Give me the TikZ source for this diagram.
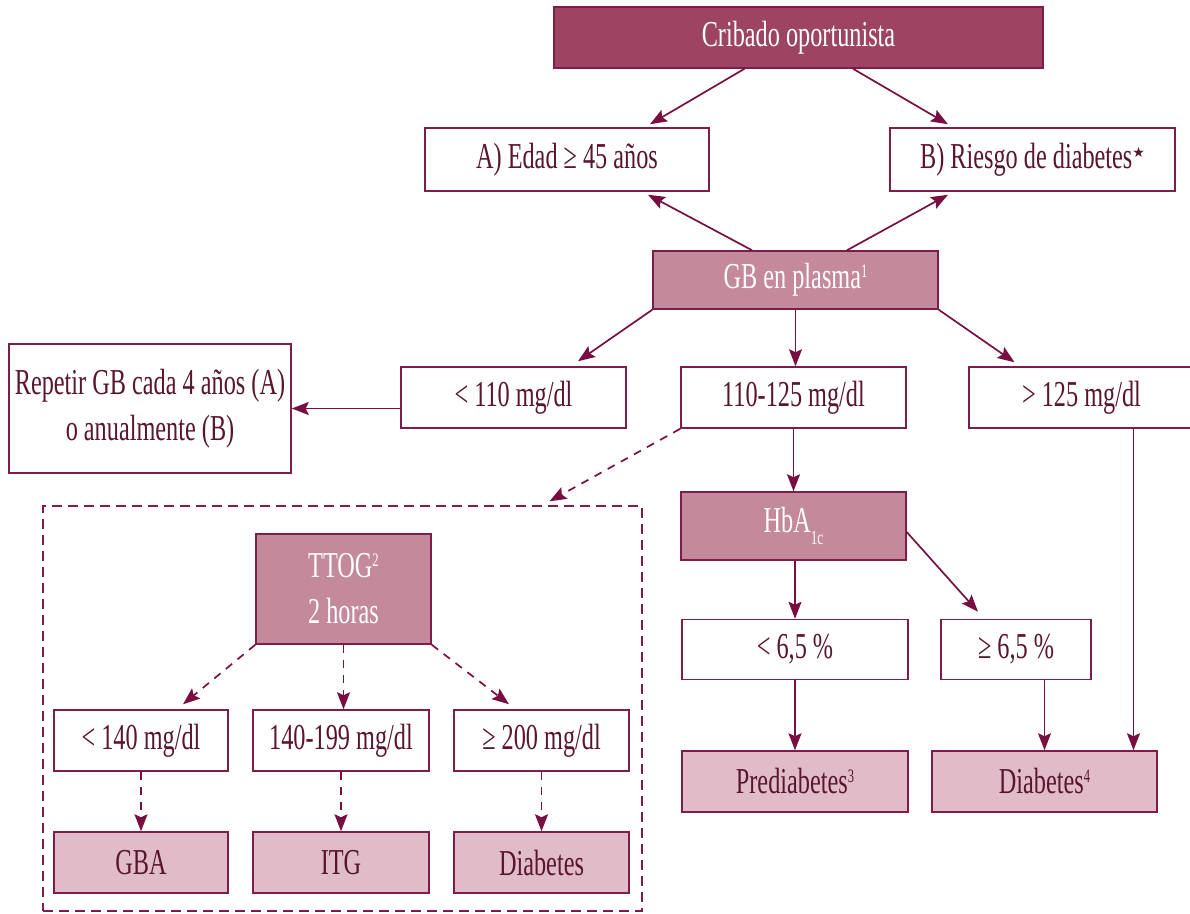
\documentclass[tikz,border=0pt]{standalone}
\usepackage{fontspec}
\setmainfont{Liberation Serif}[FakeStretch=0.665]
\newfontfamily\dejavu{DejaVu Sans}
\usetikzlibrary{arrows.meta,calc}
\definecolor{darkfill}{HTML}{9C4462}
\definecolor{medfill}{HTML}{C4899B}
\definecolor{lightfill}{HTML}{E0BCC8}
\definecolor{edgecol}{HTML}{7E1D4B}
\definecolor{arrcol}{HTML}{780F40}
\definecolor{txtcol}{HTML}{5A1530}
\newcommand{\supnum}[1]{\raisebox{0.32em}{\fontsize{19}{19}\selectfont #1}}
\begin{document}
\begin{tikzpicture}[x=1pt,y=-1pt,
  box/.style={draw=edgecol, line width=1.5pt, inner sep=0pt, align=center,
              font=\fontsize{36.5}{46}\selectfont},
  wbox/.style={box, fill=white, text=txtcol},
  dbox/.style={box, fill=darkfill, text=white},
  mbox/.style={box, fill=medfill, text=white},
  lbox/.style={box, fill=lightfill, text=txtcol},
  arrow/.style={draw=arrcol, line width=1.7pt, -{Stealth[length=17pt,width=13pt,inset=3pt]}},
  darrow/.style={arrow, dash pattern=on 8pt off 7pt},
]
\useasboundingbox (0,0) rectangle (1190,913);

% top part
\node[dbox, minimum width=489pt, minimum height=61pt] (crib) at (798.5,37.5) {Cribado oportunista};
\node[wbox, minimum width=284pt, minimum height=63pt] (A) at (567,159.5) {A) Edad ≥ 45 años};
\node[wbox, minimum width=285pt, minimum height=63pt] (B) at (1032.5,159.5) {B) Riesgo de diabetes\raisebox{0.3em}{\dejavu\fontsize{14}{14}\selectfont ★}};
\node[mbox, minimum width=285pt, minimum height=58pt] (gb) at (795.5,280) {GB en plasma\supnum{1}};
\node[wbox, minimum width=282pt, minimum height=129pt] (rep) at (150,408.5) {Repetir GB cada 4 años (A)\\o anualmente (B)};
\node[wbox, minimum width=225pt, minimum height=61pt] (lt110) at (513.5,397.5) {< 110 mg/dl};
\node[wbox, minimum width=225pt, minimum height=61pt] (mid) at (793.5,397.5) {110-125 mg/dl};
\node[wbox, minimum width=225pt, minimum height=61pt] (gt125) at (1081.5,397.5) {> 125 mg/dl};
\node[mbox, minimum width=225pt, minimum height=68pt] (hba) at (793.5,526) {HbA\raisebox{-0.35em}{\fontsize{20}{20}\selectfont 1c}};
\node[wbox, minimum width=226pt, minimum height=60pt] (lt65) at (795,649.5) {< 6,5 \%};
\node[wbox, minimum width=150pt, minimum height=60pt] (ge65) at (1016,649.5) {≥ 6,5 \%};
\node[lbox, minimum width=226pt, minimum height=61pt] (pre) at (795,781.5) {Prediabetes\supnum{3}};
\node[lbox, minimum width=225pt, minimum height=61pt] (diab) at (1044.5,781.5) {Diabetes\supnum{4}};

% dashed panel
\node[draw=edgecol, line width=1.4pt, dash pattern=on 10pt off 6pt, inner sep=0pt,
      minimum width=599pt, minimum height=405pt] (panel) at (342.5,708.5) {};
\node[mbox, minimum width=175pt, minimum height=110pt] (ttog) at (343.5,589) {TTOG\supnum{2}\\2 horas};
\node[wbox, minimum width=174pt, minimum height=61pt] (lt140) at (141,740.5) {< 140 mg/dl};
\node[wbox, minimum width=176pt, minimum height=61pt] (m140) at (341,740.5) {140-199 mg/dl};
\node[wbox, minimum width=175pt, minimum height=61pt] (ge200) at (541.5,740.5) {≥ 200 mg/dl};
\node[lbox, minimum width=174pt, minimum height=61pt] (gba) at (141,862.5) {GBA};
\node[lbox, minimum width=176pt, minimum height=61pt] (itg) at (341,862.5) {ITG};
\node[lbox, minimum width=175pt, minimum height=61pt] (diab2) at (541.5,862.5) {Diabetes};

% connectors, top part
\draw[arrow] ($(crib.south)+(-54,0)$) -- ($(A.north)+(83,-3)$);
\draw[arrow] ($(crib.south)+(54.5,0)$) -- ($(B.north)+(-84.5,-3)$);
\draw[arrow] ($(gb.north)+(-43.5,0)$) -- ($(A.south)+(81,3)$);
\draw[arrow] ($(gb.north)+(51.5,0)$) -- ($(B.south)+(-84.5,3)$);
\draw[arrow] (gb.south west) -- ($(lt110.north)+(64.5,-5)$);
\draw[arrow] (gb.south) -- (gb.south |- mid.north);
\draw[arrow] (gb.south east) -- ($(gt125.north)+(-67,-4)$);
\draw[arrow] (lt110.west |- rep.east) -- (rep.east);
\draw[darrow] (mid.south west) -- ($(panel.north)+(207,-4)$);
\draw[arrow] (mid.south) -- (mid.south |- hba.north);
\draw[arrow] ($(hba.east)+(0,6)$) -- ($(ge65.north)+(-38,-7)$);
\draw[arrow] (lt65.north |- hba.south) -- (lt65.north);
\draw[arrow] (lt65.south) -- (pre.north);
\draw[arrow] (diab.north |- ge65.south) -- (diab.north);
\coordinate (g1) at ($(gt125.south)+(52,0)$);
\draw[arrow] (g1) -- (g1 |- diab.north);

% connectors, dashed panel
\draw[darrow] (ttog.south west) -- ($(lt140.north)+(42,-5)$);
\draw[darrow] (ttog.south) -- (ttog.south |- m140.north);
\draw[darrow] (ttog.south east) -- ($(ge200.north)+(-32.5,-5)$);
\draw[darrow] (lt140.south) -- (gba.north);
\draw[darrow] (m140.south) -- (itg.north);
\draw[darrow] (ge200.south) -- (diab2.north);
\end{tikzpicture}
\end{document}
